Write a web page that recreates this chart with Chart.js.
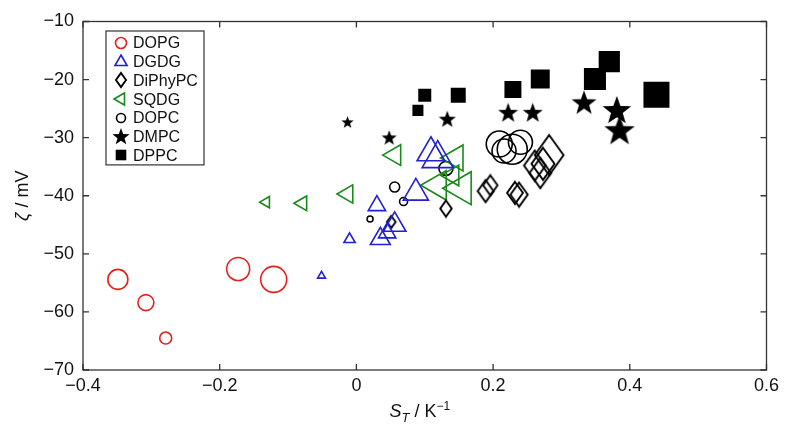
<!DOCTYPE html>
<html>
<head>
<meta charset="utf-8">
<title>Zeta potential vs Soret coefficient</title>
<script src="https://cdn.jsdelivr.net/npm/chart.js@4.4.0/dist/chart.umd.min.js"></script>
<style>
  html, body { margin: 0; padding: 0; background: #fff; }
  #wrap { width: 788px; height: 447px; }
</style>
</head>
<body>
<div id="wrap"><canvas id="zeta" width="788" height="447"></canvas></div>
<script>
// -------------------- DATA --------------------
var seriesNames = ["DOPG", "DGDG", "DiPhyPC", "SQDG", "DOPC", "DMPC", "DPPC"];

var dopgX = [-0.349, -0.308, -0.279, -0.173, -0.121];
var dopgY = [-54.4, -58.4, -64.5, -52.6, -54.4];
var dopgR = [10, 8, 6, 11.5, 13];

var dgdgX = [-0.051, -0.010, 0.030, 0.035, 0.045, 0.056, 0.087, 0.109, 0.119];
var dgdgY = [-53.8, -47.5, -41.7, -47.4, -46.4, -45.0, -39.5, -32.6, -33.6];
var dgdgR = [4.5, 6.5, 10, 11.5, 10, 13, 14.5, 16, 18];

var diphyX = [0.051, 0.131, 0.189, 0.196, 0.232, 0.238, 0.261, 0.269, 0.273, 0.282];
var diphyY = [-44.5, -42.2, -39.2, -38.2, -39.5, -39.8, -34.8, -36.1, -34.5, -33.0];
var diphyR = [6, 8, 11, 10, 11, 12, 15, 15, 16, 20];

var sqdgX = [-0.132, -0.079, -0.013, 0.056, 0.119, 0.145, 0.154, 0.141];
var sqdgY = [-41.1, -41.3, -39.7, -33.0, -38.2, -33.5, -38.7, -36.5];
var sqdgR = [6.5, 8.5, 10.5, 12, 17, 15, 19, 12];

var dopcX = [0.020, 0.056, 0.069, 0.131, 0.209, 0.216, 0.228, 0.240];
var dopcY = [-44.0, -38.5, -41.0, -35.3, -31.1, -32.3, -32.0, -30.8];
var dopcR = [3, 5, 4, 7, 13, 12, 15, 12];

var dmpcX = [-0.013, 0.048, 0.133, 0.222, 0.258, 0.333, 0.381, 0.385];
var dmpcY = [-27.4, -30.1, -26.9, -25.8, -25.8, -24.1, -25.4, -28.9];
var dmpcR = [6.5, 8, 9, 10.5, 10.5, 13, 15, 16];

var dppcX = [0.090, 0.100, 0.149, 0.229, 0.269, 0.349, 0.370, 0.439];
var dppcY = [-25.3, -22.7, -22.7, -21.7, -19.9, -19.9, -16.9, -22.6];
var dppcR = [7.8, 9.2, 10.6, 12, 13.4, 15.6, 15, 18.4];

var xTicks = [-0.4, -0.2, 0, 0.2, 0.4, 0.6];
var yTicks = [-70, -60, -50, -40, -30, -20, -10];

// -------------------- HELPERS --------------------
var FONT = "'Liberation Sans', Arial, Helvetica, sans-serif";
var RED = "#e3221d", BLUE = "#2121d4", GREEN = "#1b8a1b", BLACK = "#000";

function toPoints(xs, ys, rs) {
    var pts = [];
    for (var i = 0; i < xs.length; i++) {
        pts.push({ x: xs[i], y: ys[i], r: rs[i] });
    }
    return pts;
}

// filled five-pointed star (Chart.js "star" is an asterisk)
var starCache = {};
function starImg(r) {
    var key = r.toFixed(1);
    if (starCache[key]) return starCache[key];
    var c = document.createElement("canvas");
    var s = Math.ceil(2 * r + 2);
    c.width = s; c.height = s;
    var g = c.getContext("2d");
    g.fillStyle = "#000";
    g.beginPath();
    for (var i = 0; i < 10; i++) {
        var a = -Math.PI / 2 + i * Math.PI / 5;
        var rr = (i % 2 === 0) ? r : r * 0.41;
        g.lineTo(s / 2 + rr * Math.cos(a), s / 2 + rr * Math.sin(a));
    }
    g.closePath();
    g.fill();
    starCache[key] = c;
    return c;
}

// open diamond, taller than wide
var diaCache = {};
function diamondImg(r) {
    var key = r.toFixed(1);
    if (diaCache[key]) return diaCache[key];
    var hw = r * 0.72;
    var c = document.createElement("canvas");
    c.width = 2 * Math.ceil(hw + 2);
    c.height = 2 * Math.ceil(r + 2);
    var g = c.getContext("2d");
    var cx = c.width / 2, cy = c.height / 2;
    g.strokeStyle = "#000";
    g.lineWidth = 1.9;
    g.lineJoin = "miter";
    g.beginPath();
    g.moveTo(cx, cy - r);
    g.lineTo(cx + hw, cy);
    g.lineTo(cx, cy + r);
    g.lineTo(cx - hw, cy);
    g.closePath();
    g.stroke();
    diaCache[key] = c;
    return c;
}

function minus(s) { return String(s).replace("-", "\u2212"); }

// -------------------- DATASETS --------------------
var datasets = [
    { label: seriesNames[0], data: toPoints(dopgX, dopgY, dopgR), pointStyle: "circle",
      borderColor: RED, backgroundColor: "rgba(0,0,0,0)", borderWidth: 1.6, legendR: 5.5 },
    { label: seriesNames[1], data: toPoints(dgdgX, dgdgY, dgdgR), pointStyle: "triangle",
      borderColor: BLUE, backgroundColor: "rgba(0,0,0,0)", borderWidth: 1.6, legendR: 7 },
    { label: seriesNames[2], data: toPoints(diphyX, diphyY, diphyR),
      pointStyle: function(ctx) { return diamondImg(ctx.raw ? ctx.raw.r : 7); },
      borderColor: BLACK, backgroundColor: "rgba(0,0,0,0)", borderWidth: 1.5, legendR: 7, img: diamondImg },
    { label: seriesNames[3], data: toPoints(sqdgX, sqdgY, sqdgR), pointStyle: "triangle", rotation: 270,
      borderColor: GREEN, backgroundColor: "rgba(0,0,0,0)", borderWidth: 1.6, legendR: 7 },
    { label: seriesNames[4], data: toPoints(dopcX, dopcY, dopcR), pointStyle: "circle",
      borderColor: BLACK, backgroundColor: "rgba(0,0,0,0)", borderWidth: 1.6, legendR: 4.5 },
    { label: seriesNames[5], data: toPoints(dmpcX, dmpcY, dmpcR),
      pointStyle: function(ctx) { return starImg(ctx.raw ? ctx.raw.r : 8); },
      borderColor: BLACK, backgroundColor: BLACK, borderWidth: 0, legendR: 9, img: starImg },
    { label: seriesNames[6], data: toPoints(dppcX, dppcY, dppcR), pointStyle: "rect",
      borderColor: BLACK, backgroundColor: BLACK, borderWidth: 0, legendR: 7.5 }
];

// -------------------- PLUGINS --------------------
// box + inward ticks on all four sides, axis titles, legend
var framePlugin = {
    id: "frame",
    afterDatasetsDraw: function(chart) {
        var ctx = chart.ctx, a = chart.chartArea;
        var xs = chart.scales.x, ys = chart.scales.y;
        var tl = 6;
        ctx.save();
        ctx.strokeStyle = "#333";
        ctx.lineWidth = 1.3;
        ctx.strokeRect(a.left, a.top, a.right - a.left, a.bottom - a.top);
        ctx.beginPath();
        xTicks.forEach(function(v) {
            var px = xs.getPixelForValue(v);
            ctx.moveTo(px, a.bottom); ctx.lineTo(px, a.bottom - tl);
            ctx.moveTo(px, a.top); ctx.lineTo(px, a.top + tl);
        });
        yTicks.forEach(function(v) {
            var py = ys.getPixelForValue(v);
            ctx.moveTo(a.left, py); ctx.lineTo(a.left + tl, py);
            ctx.moveTo(a.right, py); ctx.lineTo(a.right - tl, py);
        });
        ctx.stroke();

        // y title
        ctx.fillStyle = "#111";
        ctx.textBaseline = "alphabetic";
        ctx.translate(28, (a.top + a.bottom) / 2);
        ctx.rotate(-Math.PI / 2);
        ctx.font = "italic 18px " + FONT;
        var w1 = ctx.measureText("\u03b6").width;
        ctx.font = "18px " + FONT;
        var w2 = ctx.measureText(" / mV").width;
        var x0 = -(w1 + w2) / 2;
        ctx.font = "italic 18px " + FONT;
        ctx.fillText("\u03b6", x0, 0);
        ctx.font = "18px " + FONT;
        ctx.fillText(" / mV", x0 + w1, 0);
        ctx.restore();

        // x title
        ctx.save();
        ctx.fillStyle = "#111";
        var parts = [
            { t: "S", f: "italic 18px " + FONT, dy: 0 },
            { t: "T", f: "italic 13px " + FONT, dy: 5 },
            { t: " / K", f: "18px " + FONT, dy: 0 },
            { t: "\u22121", f: "12px " + FONT, dy: -7 }
        ];
        var tot = 0;
        parts.forEach(function(p) { ctx.font = p.f; p.w = ctx.measureText(p.t).width; tot += p.w; });
        var cx = (a.left + a.right) / 2 - 5 - tot / 2, by = 417;
        parts.forEach(function(p) { ctx.font = p.f; ctx.fillText(p.t, cx, by + p.dy); cx += p.w; });
        ctx.restore();

        // legend box
        var lx = 106, ly = 31, lw = 98, rowH = 18.7;
        var lh = rowH * chart.data.datasets.length + 3;
        ctx.save();
        ctx.fillStyle = "#fff";
        ctx.fillRect(lx, ly, lw, lh);
        ctx.strokeStyle = "#333";
        ctx.lineWidth = 1.2;
        ctx.strokeRect(lx, ly, lw, lh);
        ctx.font = "16px " + FONT;
        ctx.textBaseline = "middle";
        chart.data.datasets.forEach(function(ds, i) {
            var my = ly + 12 + i * rowH;
            var mx = lx + 15;
            var style = ds.img ? ds.img(ds.legendR) : ds.pointStyle;
            ctx.strokeStyle = ds.borderColor;
            ctx.fillStyle = ds.backgroundColor;
            ctx.lineWidth = ds.borderWidth;
            Chart.helpers.drawPoint(ctx, {
                pointStyle: style, rotation: ds.rotation || 0,
                radius: ds.legendR, borderWidth: ds.borderWidth
            }, Math.round(mx), Math.round(my));
            ctx.fillStyle = "#111";
            ctx.fillText(ds.label, lx + 27, my + 1);
        });
        ctx.restore();
    }
};

// -------------------- CHART --------------------
new Chart(document.getElementById("zeta"), {
    type: "bubble",
    data: { datasets: datasets },
    options: {
        responsive: false,
        animation: false,
        layout: { padding: { left: 0, right: 17, top: 12, bottom: 0 } },
        plugins: {
            legend: { display: false },
            tooltip: { enabled: false }
        },
        scales: {
            x: {
                type: "linear",
                min: -0.4, max: 0.6,
                afterFit: function(s) { s.height = 77; },
                afterBuildTicks: function(s) { s.ticks = xTicks.map(function(v) { return { value: v }; }); },
                grid: { display: false, drawTicks: false },
                border: { display: false },
                ticks: {
                    padding: 5, color: "#111", maxRotation: 0,
                    font: { family: FONT, size: 18 },
                    callback: function(v) { return v === 0 ? "0" : minus(Number(v).toFixed(1)); }
                }
            },
            y: {
                type: "linear",
                min: -70, max: -10,
                afterFit: function(s) { s.width = 83; },
                afterBuildTicks: function(s) { s.ticks = yTicks.map(function(v) { return { value: v }; }); },
                grid: { display: false, drawTicks: false },
                border: { display: false },
                ticks: {
                    padding: 9, color: "#111",
                    font: { family: FONT, size: 18 },
                    callback: function(v) { return minus(v); }
                }
            }
        }
    },
    plugins: [framePlugin]
});
</script>
</body>
</html>
